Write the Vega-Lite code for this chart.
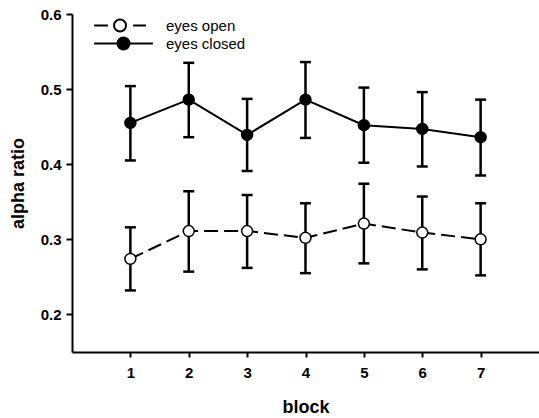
{
  "$schema": "https://vega.github.io/schema/vega-lite/v6.json",
  "width": 467,
  "height": 338,
  "autosize": {"type": "none"},
  "padding": {"left": 72, "top": 14, "right": 0, "bottom": 66},
  "background": "white",
  "config": {
    "view": {"stroke": null},
    "font": "Liberation Sans",
    "axis": {"grid": false, "domainColor": "black", "domainWidth": 2, "tickColor": "black", "tickWidth": 2, "labelColor": "black", "titleColor": "black", "labelFont": "Liberation Sans", "titleFont": "Liberation Sans", "labelFontWeight": "bold", "titleFontWeight": "bold", "labelFontSize": 15, "titleFontSize": 18}
  },
  "data": {
    "values": [
      {"block": 1, "cond": "eyes closed", "mean": 0.455, "lo": 0.405, "hi": 0.504},
      {"block": 2, "cond": "eyes closed", "mean": 0.486, "lo": 0.436, "hi": 0.535},
      {"block": 3, "cond": "eyes closed", "mean": 0.439, "lo": 0.391, "hi": 0.487},
      {"block": 4, "cond": "eyes closed", "mean": 0.486, "lo": 0.435, "hi": 0.536},
      {"block": 5, "cond": "eyes closed", "mean": 0.452, "lo": 0.402, "hi": 0.502},
      {"block": 6, "cond": "eyes closed", "mean": 0.447, "lo": 0.397, "hi": 0.496},
      {"block": 7, "cond": "eyes closed", "mean": 0.436, "lo": 0.385, "hi": 0.486},
      {"block": 1, "cond": "eyes open", "mean": 0.274, "lo": 0.232, "hi": 0.316},
      {"block": 2, "cond": "eyes open", "mean": 0.311, "lo": 0.257, "hi": 0.364},
      {"block": 3, "cond": "eyes open", "mean": 0.311, "lo": 0.262, "hi": 0.359},
      {"block": 4, "cond": "eyes open", "mean": 0.302, "lo": 0.255, "hi": 0.348},
      {"block": 5, "cond": "eyes open", "mean": 0.321, "lo": 0.268, "hi": 0.374},
      {"block": 6, "cond": "eyes open", "mean": 0.309, "lo": 0.260, "hi": 0.357},
      {"block": 7, "cond": "eyes open", "mean": 0.300, "lo": 0.252, "hi": 0.348}
    ]
  },
  "encoding": {
    "x": {"field": "block", "type": "quantitative", "scale": {"domain": [0, 8], "nice": false, "zero": false},
      "axis": {"values": [1, 2, 3, 4, 5, 6, 7], "tickSize": 5, "labelPadding": 8, "title": "block", "titleY": 60, "titleBaseline": "alphabetic"}}
  },
  "layer": [
    {
      "mark": {"type": "rule", "color": "black", "strokeWidth": 2.5},
      "encoding": {
        "y": {"field": "lo", "type": "quantitative", "scale": {"domain": [0.15, 0.6], "nice": false, "zero": false},
          "axis": {"values": [0.2, 0.3, 0.4, 0.5, 0.6], "format": ".1f", "tickSize": 6, "labelPadding": 5, "title": "alpha ratio", "titleX": -49, "titleBaseline": "alphabetic"}},
        "y2": {"field": "hi"}
      }
    },
    {
      "mark": {"type": "tick", "orient": "horizontal", "color": "black", "size": 11, "thickness": 2.5, "opacity": 1},
      "encoding": {"y": {"field": "lo", "type": "quantitative"}}
    },
    {
      "mark": {"type": "tick", "orient": "horizontal", "color": "black", "size": 11, "thickness": 2.5, "opacity": 1},
      "encoding": {"y": {"field": "hi", "type": "quantitative"}}
    },
    {
      "transform": [{"filter": "datum.cond == 'eyes closed'"}],
      "mark": {"type": "line", "color": "black", "strokeWidth": 2},
      "encoding": {"y": {"field": "mean", "type": "quantitative"}}
    },
    {
      "transform": [{"filter": "datum.cond == 'eyes open'"}],
      "mark": {"type": "line", "color": "black", "strokeWidth": 2, "strokeDash": [14, 6]},
      "encoding": {"y": {"field": "mean", "type": "quantitative"}}
    },
    {
      "mark": {"type": "point", "filled": true, "shape": "circle", "size": 120, "stroke": "black", "strokeWidth": 1.5, "opacity": 1},
      "encoding": {
        "y": {"field": "mean", "type": "quantitative"},
        "fill": {"condition": {"test": "datum.cond == 'eyes closed'", "value": "black"}, "value": "white"}
      }
    },
    {
      "mark": {"type": "point", "filled": true, "stroke": "black", "strokeWidth": 2, "opacity": 0},
      "encoding": {
        "y": {"field": "mean", "type": "quantitative"},
        "fill": {"field": "cond", "type": "nominal", "scale": {"domain": ["eyes open", "eyes closed"], "range": ["white", "black"]},
          "legend": {"title": null, "orient": "none", "legendX": 44, "legendY": 4, "padding": 0, "symbolSize": 144, "symbolOpacity": 1, "symbolStrokeColor": "black", "symbolStrokeWidth": 2, "labelFont": "Liberation Sans", "labelFontSize": 15, "labelColor": "black", "labelOffset": 35, "rowPadding": -5,
            "encode": {"symbols": {"update": {"stroke": {"value": "black"}, "strokeWidth": {"value": 2}}}}}},
        "shape": {"field": "cond", "type": "nominal", "scale": {"domain": ["eyes open", "eyes closed"], "range": ["M-4.9,0H-2.6M-1.58,0A1,1 0 1,0 0.42,0A1,1 0 1,0 -1.58,0ZM1.6,0H3.75", "M-4.9,0H4.9M-1,0A1,1 0 1,0 1,0A1,1 0 1,0 -1,0Z"]},
          "legend": {"title": null, "orient": "none", "legendX": 44, "legendY": 4, "padding": 0, "symbolSize": 144, "symbolOpacity": 1, "symbolStrokeColor": "black", "symbolStrokeWidth": 2, "labelFont": "Liberation Sans", "labelFontSize": 15, "labelColor": "black", "labelOffset": 35, "rowPadding": -5,
            "encode": {"symbols": {"update": {"stroke": {"value": "black"}, "strokeWidth": {"value": 2}}}}}}
      }
    }
  ]
}
